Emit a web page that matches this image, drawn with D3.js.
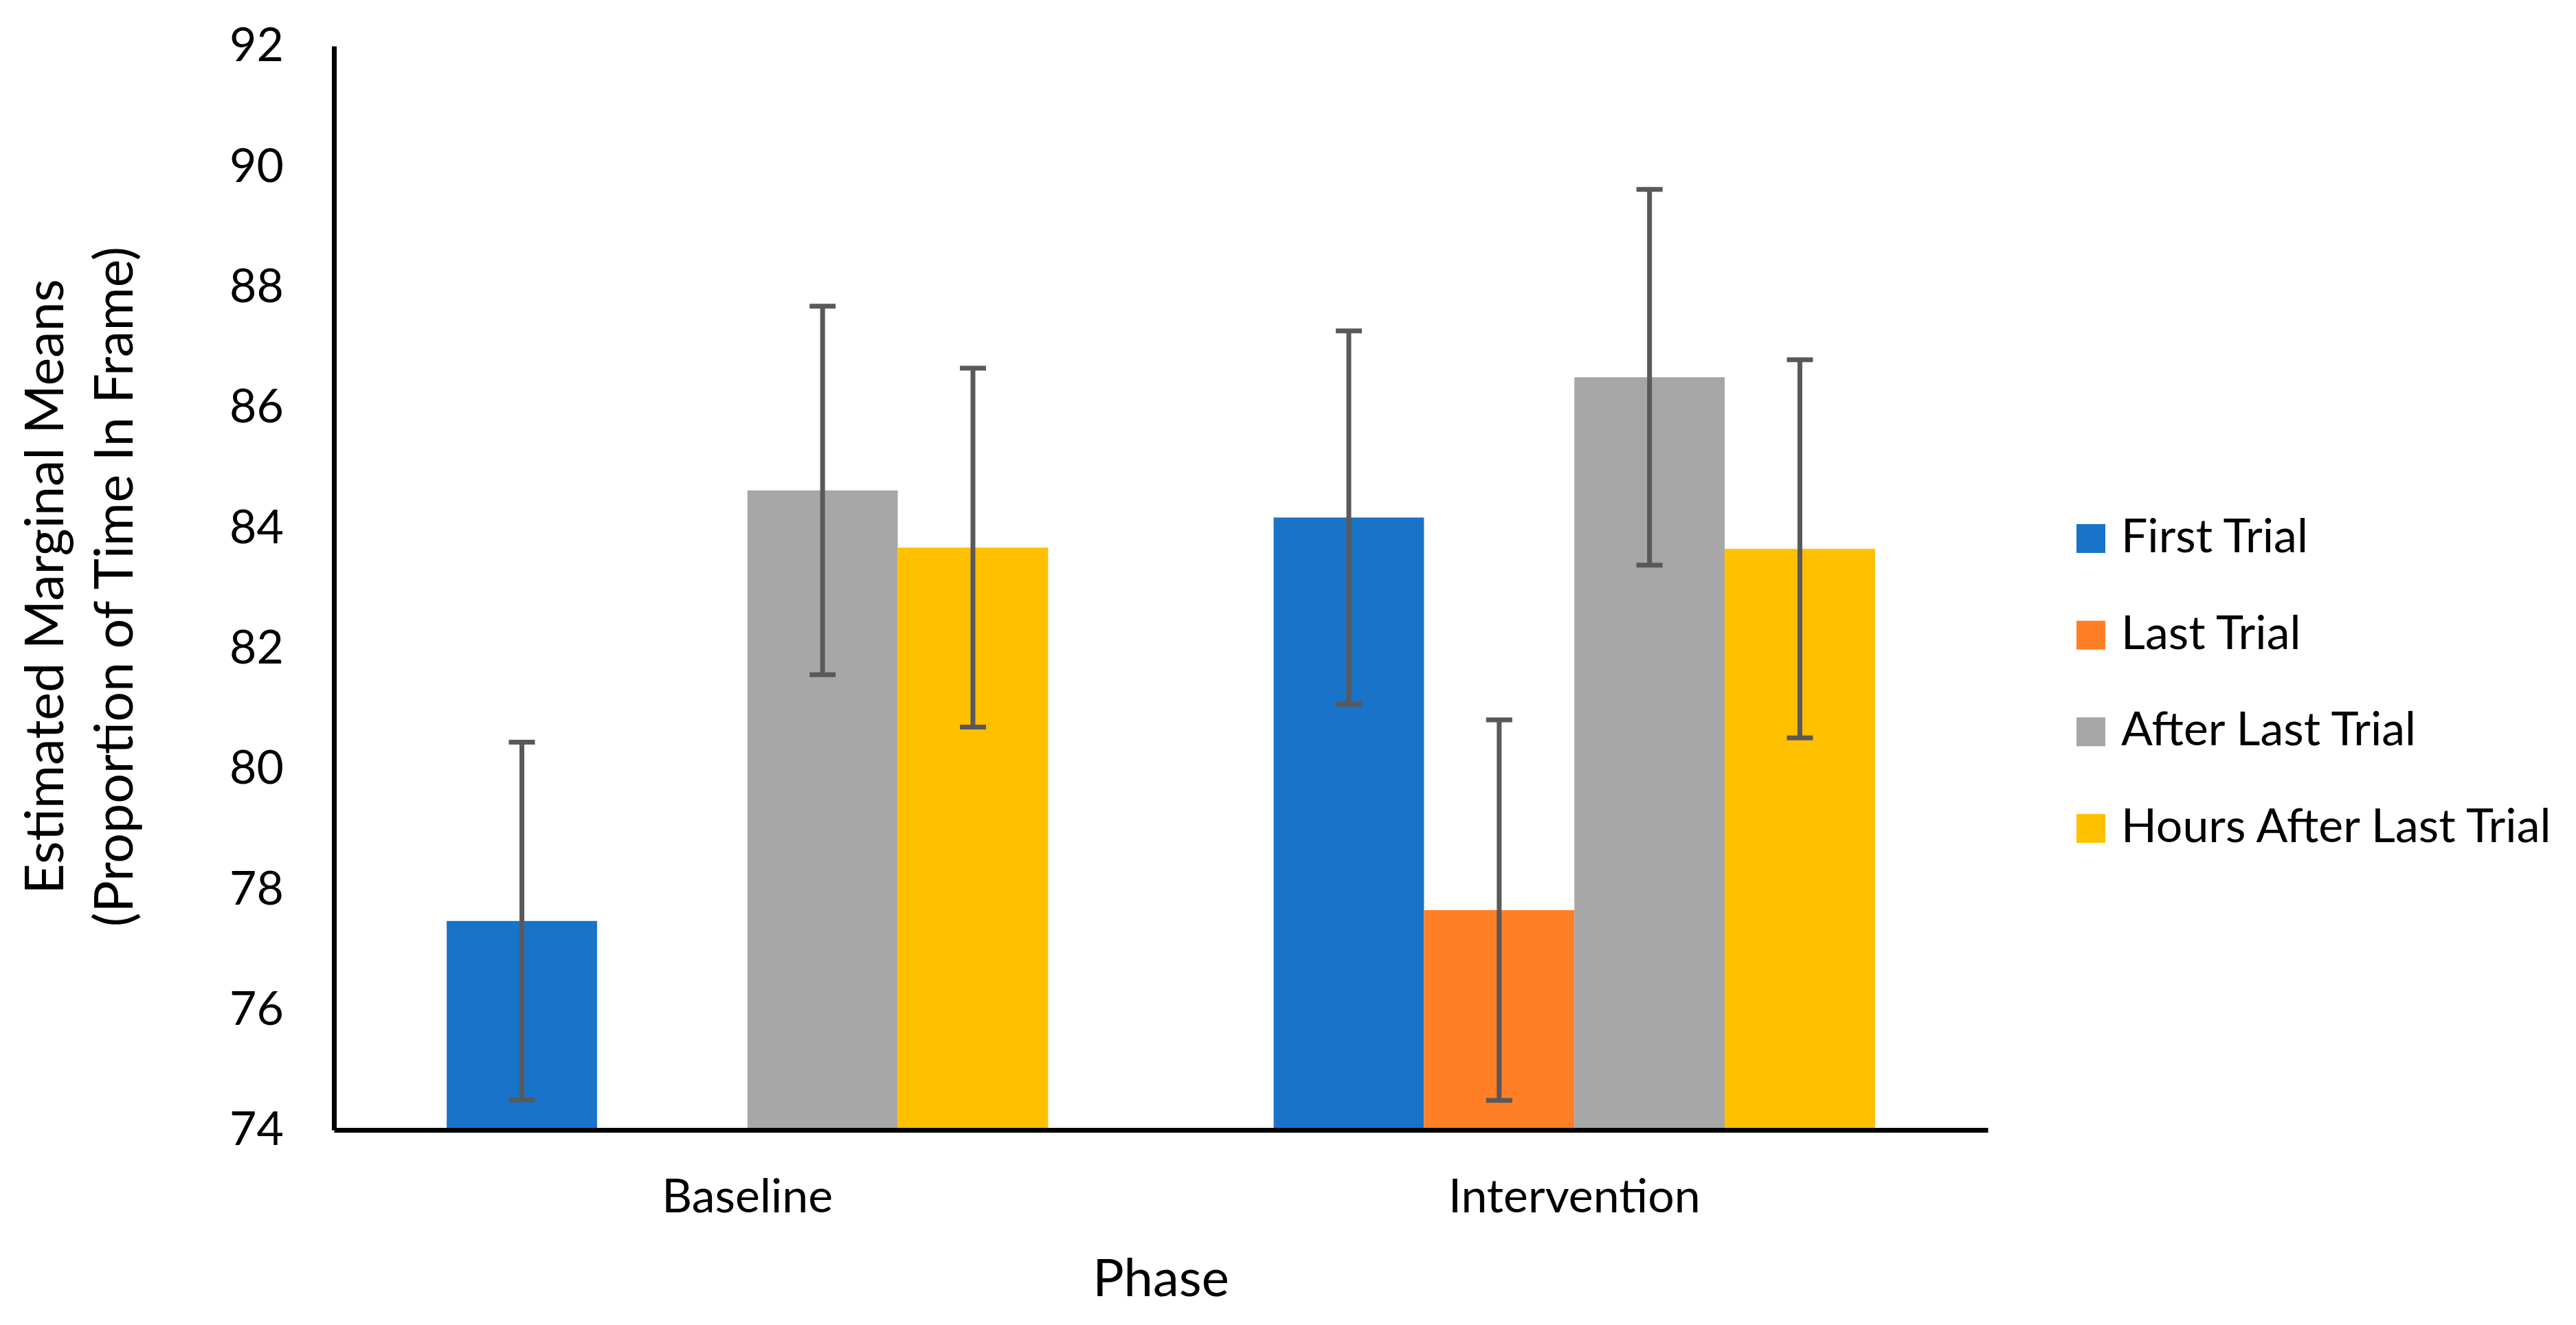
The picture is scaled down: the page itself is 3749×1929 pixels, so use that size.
<!DOCTYPE html>
<html>
<head>
<meta charset="utf-8">
<script src="https://cdn.jsdelivr.net/npm/d3@7"></script>
<style>
  body { margin: 0; background: #fff; }
  text { font-family: Lato, "Open Sans", sans-serif; fill: #000; }
</style>
</head>
<body>
<div id="chart"></div>
<script>
// chart values
var phases = ["Baseline", "Intervention"];
var seriesNames = ["First Trial", "Last Trial", "After Last Trial", "Hours After Last Trial"];
var firstTrial = [77.47, 84.17];
var lastTrial = [null, 77.65];
var afterLastTrial = [84.62, 86.50];
var hoursAfterLastTrial = [83.67, 83.65];
var firstTrialErr = [2.97, 3.10];
var lastTrialErr = [null, 3.16];
var afterLastTrialErr = [3.06, 3.12];
var hoursAfterLastTrialErr = [2.98, 3.14];
var yTicks = [74, 76, 78, 80, 82, 84, 86, 88, 90, 92];

var seriesValues = [firstTrial, lastTrial, afterLastTrial, hoursAfterLastTrial];
var seriesErrors = [firstTrialErr, lastTrialErr, afterLastTrialErr, hoursAfterLastTrialErr];
var colors = ["#1873C9", "#FF7F27", "#A7A7A7", "#FFC000"];

// SVG area
var svgWidth = 3749;
var svgHeight = 1929;
var chartMargin = { top: 67, right: 856, bottom: 284, left: 486 };
var width = svgWidth - chartMargin.left - chartMargin.right;
var height = svgHeight - chartMargin.top - chartMargin.bottom;

var svg = d3.select("#chart")
  .append("svg")
  .attr("width", svgWidth)
  .attr("height", svgHeight);

svg.append("rect")
  .attr("width", svgWidth)
  .attr("height", svgHeight)
  .attr("fill", "#fff");

var chartGroup = svg.append("g")
  .attr("transform", `translate(${chartMargin.left}, ${chartMargin.top})`);

// build rows for bars
var rows = [];
phases.forEach(function(p, i) {
  seriesNames.forEach(function(s, j) {
    if (seriesValues[j][i] != null) {
      rows.push({ phase: p, series: s, value: seriesValues[j][i], err: seriesErrors[j][i], color: colors[j] });
    }
  });
});

var x0 = d3.scaleBand().domain(phases).range([0, width]).padding(0);
var x1 = d3.scaleBand().domain(seriesNames).range([0, x0.bandwidth()]).paddingInner(0).paddingOuter(0.75);
var y = d3.scaleLinear().domain([74, 92]).range([height, 0]);

// bars
chartGroup.selectAll("rect.bar")
  .data(rows)
  .enter()
  .append("rect")
  .attr("class", "bar")
  .attr("x", d => x0(d.phase) + x1(d.series))
  .attr("y", d => y(d.value))
  .attr("width", x1.bandwidth())
  .attr("height", d => height - y(d.value))
  .attr("fill", d => d.color);

// error bars
var capW = 38;
var eb = chartGroup.selectAll("g.err")
  .data(rows)
  .enter()
  .append("g")
  .attr("class", "err")
  .attr("stroke", "#595959")
  .attr("stroke-width", 7);

eb.append("line")
  .attr("x1", d => x0(d.phase) + x1(d.series) + x1.bandwidth() / 2)
  .attr("x2", d => x0(d.phase) + x1(d.series) + x1.bandwidth() / 2)
  .attr("y1", d => y(d.value + d.err))
  .attr("y2", d => y(d.value - d.err));

eb.append("line")
  .attr("x1", d => x0(d.phase) + x1(d.series) + x1.bandwidth() / 2 - capW / 2)
  .attr("x2", d => x0(d.phase) + x1(d.series) + x1.bandwidth() / 2 + capW / 2)
  .attr("y1", d => y(d.value + d.err))
  .attr("y2", d => y(d.value + d.err));

eb.append("line")
  .attr("x1", d => x0(d.phase) + x1(d.series) + x1.bandwidth() / 2 - capW / 2)
  .attr("x2", d => x0(d.phase) + x1(d.series) + x1.bandwidth() / 2 + capW / 2)
  .attr("y1", d => y(d.value - d.err))
  .attr("y2", d => y(d.value - d.err));

// axes
var leftAxis = d3.axisLeft(y).tickValues(yTicks).tickSize(0).tickSizeOuter(0).tickPadding(73);
var yAxisG = chartGroup.append("g").call(leftAxis);
yAxisG.select(".domain").attr("stroke", "#000").attr("stroke-width", 7);
yAxisG.selectAll("text")
  .style("font-size", "68px")
  .style("font-family", "Lato, sans-serif")
  .attr("fill", "#000");

var bottomAxis = d3.axisBottom(x0).tickSize(0).tickSizeOuter(0);
var xAxisG = chartGroup.append("g")
  .attr("transform", `translate(0, ${height})`)
  .call(bottomAxis);
xAxisG.select(".domain").attr("stroke", "#000").attr("stroke-width", 7);
xAxisG.selectAll("text")
  .attr("y", 120)
  .attr("dy", null)
  .style("font-size", "68px")
  .style("font-family", "Lato, sans-serif")
  .attr("fill", "#000");

// axis titles
chartGroup.append("text")
  .attr("x", width / 2)
  .attr("y", height + 242)
  .attr("text-anchor", "middle")
  .style("font-size", "76px")
  .text("Phase");

var yTitle = svg.append("text")
  .attr("transform", `translate(92, ${chartMargin.top + height / 2 - 2}) rotate(-90)`)
  .attr("text-anchor", "middle")
  .style("font-size", "77px");
yTitle.append("tspan").attr("x", 0).attr("y", 0).text("Estimated Marginal Means");
yTitle.append("tspan").attr("x", 0).attr("y", 101).text("(Proportion of Time In Frame)");

// legend
var legend = svg.selectAll("g.legend")
  .data(seriesNames)
  .enter()
  .append("g")
  .attr("class", "legend")
  .attr("transform", (d, i) => `translate(3022, ${763 + i * 140.7})`);

legend.append("rect")
  .attr("width", 42)
  .attr("height", 42)
  .attr("fill", (d, i) => colors[i]);

legend.append("text")
  .attr("x", 65)
  .attr("y", 41)
  .style("font-size", "68px")
  .text(d => d);
</script>
</body>
</html>
